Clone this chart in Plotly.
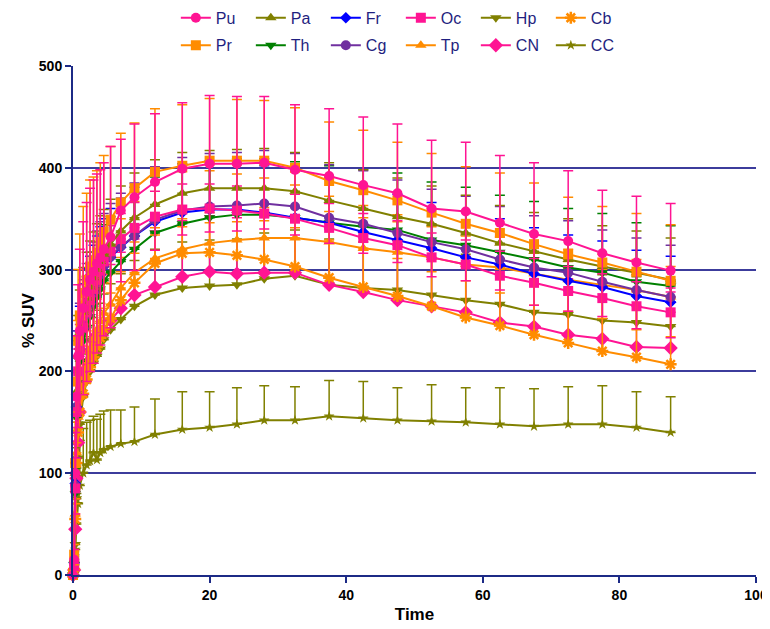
import plotly.graph_objects as go

time = [0, 0.17, 0.33, 0.5, 0.75, 1, 1.5, 2, 2.5, 3, 3.5, 4, 4.5, 5.5, 7, 9, 12, 16, 20, 24, 28,
        32.5, 37.5, 42.5, 47.5, 52.5, 57.5, 62.5, 67.5, 72.5, 77.5, 82.5, 87.5]

Pu = [0, 15, 100, 175, 215, 240, 262, 278, 290, 298, 306, 312, 320, 332, 358, 371, 386, 399, 404, 404, 405,
      398, 392, 383, 375, 360, 357, 346, 335, 328, 316, 307, 299]
Pr = [0, 20, 110, 190, 230, 255, 277, 290, 303, 309, 317, 327, 337, 349, 366, 380, 396, 402, 407, 407, 407,
      400, 387, 378, 368, 356, 345, 336, 325, 315, 307, 298, 289]
Pa = [0, 15, 100, 180, 215, 238, 258, 272, 283, 292, 300, 308, 315, 325, 338, 351, 364, 375, 380, 380, 380,
      377, 368, 360, 352, 345, 336, 326, 318, 310, 303, 297, 290]
Th = [0, 10, 80, 155, 190, 210, 230, 243, 254, 264, 273, 281, 289, 297, 308, 320, 336, 345, 351, 354, 354,
      351, 346, 342, 339, 329, 324, 317, 310, 302, 297, 288, 284]
Fr = [0, 12, 90, 165, 200, 222, 242, 256, 268, 278, 287, 295, 303, 312, 322, 333, 347, 356, 359, 359, 356,
      351, 346, 337, 329, 321, 312, 305, 296, 289, 283, 274, 268]
Cg = [0, 12, 88, 165, 200, 222, 242, 256, 267, 277, 287, 296, 304, 313, 323, 333, 349, 358, 362, 363, 365,
      362, 351, 345, 336, 327, 320, 310, 302, 297, 288, 280, 273]
Oc = [0, 10, 85, 160, 200, 222, 243, 258, 270, 281, 290, 299, 308, 318, 330, 341, 352, 359, 360, 358, 355,
      350, 341, 331, 324, 312, 305, 294, 287, 279, 272, 264, 258]
Tp = [0, 8, 60, 120, 155, 175, 195, 210, 222, 232, 241, 249, 257, 266, 282, 297, 311, 320, 326, 329, 331,
      331, 327, 321, 317, 312, 305, 302, 296, 290, 285, 280, 273]
Hp = [0, 4, 30, 75, 115, 148, 175, 190, 200, 208, 215, 222, 231, 241, 251, 264, 275, 282, 284, 285, 291,
      294, 285, 282, 280, 275, 270, 266, 258, 256, 250, 248, 244]
Cb = [0, 6, 55, 110, 140, 160, 178, 192, 204, 214, 224, 233, 242, 252, 270, 287, 306, 316, 317, 314, 310,
      303, 292, 283, 274, 264, 253, 245, 236, 228, 220, 214, 207]
CN = [0, 5, 45, 95, 130, 160, 190, 208, 220, 230, 236, 238, 240, 250, 262, 275, 283, 293, 298, 296, 297,
      297, 285, 278, 270, 264, 258, 248, 244, 236, 232, 224, 223]
CC = [0, 3, 25, 50, 70, 88, 100, 108, 112, 120, 113, 120, 123, 126, 129, 131, 138, 143, 145, 148, 152,
      152, 156, 154, 152, 151, 150, 148, 146, 148, 148, 145, 140]

Pu_err = [5, 10, 40, 60, 70, 80, 85, 88, 90, 90, 88, 86, 85, 89, 70, 72, 67, 65, 67, 66, 65,
          64, 66, 67, 68, 67, 68, 66, 70, 69, 62, 65, 66]
Pr_err = [5, 10, 40, 60, 70, 80, 85, 85, 85, 82, 80, 78, 75, 72, 68, 64, 62, 60, 61, 60, 59,
          59, 58, 59, 57, 58, 56, 59, 60, 56, 55, 57, 55]
Pa_err = [3, 8, 25, 35, 40, 42, 44, 45, 45, 45, 45, 45, 44, 44, 44, 44, 44, 40, 37, 38, 39,
          38, 37, 38, 38, 37, 37, 37, 38, 40, 40, 41, 41]
Th_err = [3, 8, 25, 35, 40, 45, 48, 50, 52, 53, 54, 54, 55, 55, 55, 56, 55, 55, 55, 55, 55,
          55, 56, 56, 56, 57, 57, 56, 57, 58, 58, 58, 59]
Fr_err = [3, 8, 25, 35, 40, 42, 44, 45, 45, 46, 46, 47, 47, 48, 48, 48, 48, 48, 48, 47, 46,
          46, 45, 45, 45, 45, 45, 45, 45, 45, 45, 45, 45]
Cg_err = [3, 8, 25, 35, 40, 45, 48, 50, 50, 50, 51, 51, 51, 52, 52, 52, 52, 52, 52, 52, 52,
          52, 52, 52, 52, 52, 52, 52, 51, 51, 51, 51, 51]
Oc_err = [3, 6, 15, 20, 22, 24, 25, 25, 25, 25, 25, 25, 25, 25, 25, 25, 25, 25, 24, 24, 24,
          24, 24, 24, 24, 24, 24, 24, 24, 24, 24, 24, 24]
Tp_err = [3, 6, 15, 22, 25, 28, 30, 30, 30, 30, 30, 30, 30, 30, 30, 30, 30, 30, 30, 30, 30,
          30, 30, 30, 30, 30, 30, 30, 30, 30, 30, 30, 30]
Hp_err = [3, 6, 20, 30, 35, 40, 42, 44, 45, 45, 45, 45, 45, 45, 45, 45, 45, 45, 45, 45, 45,
          45, 45, 45, 45, 45, 45, 45, 45, 45, 45, 45, 45]
Cb_err = [3, 10, 30, 50, 60, 70, 75, 80, 80, 80, 80, 80, 80, 80, 80, 80, 80, 80, 80, 80, 80,
          80, 80, 80, 80, 80, 80, 80, 80, 80, 80, 80, 80]
CN_err = [3, 10, 30, 45, 50, 55, 55, 55, 55, 55, 55, 55, 55, 55, 55, 55, 55, 55, 55, 55, 55,
          55, 55, 55, 55, 55, 55, 55, 55, 55, 55, 55, 55]
CC_err = [3, 8, 20, 30, 40, 44, 44, 42, 40, 36, 40, 38, 38, 36, 33, 34, 35, 37, 35, 36, 34,
          33, 35, 36, 32, 36, 34, 36, 37, 37, 38, 35, 35]

PINK = "#FF1493"
ORANGE = "#FF8C00"
OLIVE = "#808000"
BLUE = "#0000FF"
GREEN = "#008000"
PURPLE = "#7030A0"

# name, values, errors, color, symbol, size, symmetric, legend
series = [
    ("CC", CC, CC_err, OLIVE, "star", 8, False, "legend2"),
    ("Hp", Hp, Hp_err, OLIVE, "triangle-down", 10, False, "legend"),
    ("CN", CN, CN_err, PINK, "diamond", 11, False, "legend2"),
    ("Cb", Cb, Cb_err, ORANGE, "asterisk-open", 10, False, "legend"),
    ("Tp", Tp, Tp_err, ORANGE, "triangle-up", 10, False, "legend2"),
    ("Th", Th, Th_err, GREEN, "triangle-down", 10, False, "legend2"),
    ("Fr", Fr, Fr_err, BLUE, "diamond", 9, False, "legend"),
    ("Cg", Cg, Cg_err, PURPLE, "circle", 10, False, "legend2"),
    ("Oc", Oc, Oc_err, PINK, "square", 10, False, "legend"),
    ("Pa", Pa, Pa_err, OLIVE, "triangle-up", 10, False, "legend"),
    ("Pr", Pr, Pr_err, ORANGE, "square", 10, True, "legend2"),
    ("Pu", Pu, Pu_err, PINK, "circle", 10, True, "legend"),
]
order1 = ["Pu", "Pa", "Fr", "Oc", "Hp", "Cb"]
order2 = ["Pr", "Th", "Cg", "Tp", "CN", "CC"]

fig = go.Figure()
for name, vals, errs, col, sym, size, symm, leg in series:
    rank = (order1.index(name) if name in order1 else order2.index(name))
    err = dict(type="data", array=errs, color=col, thickness=1.5, width=5, visible=True)
    if symm:
        err["symmetric"] = True
    else:
        err["symmetric"] = False
        err["arrayminus"] = [0] * len(errs)
    mk = dict(symbol=sym, size=size, color=col, line=dict(width=0, color=col))
    if sym == "asterisk-open":
        mk["line"] = dict(width=2.5, color=col)
    fig.add_trace(go.Scatter(
        x=time, y=vals, name=name, mode="lines+markers",
        line=dict(color=col, width=2), marker=mk, error_y=err,
        cliponaxis=False, legend=leg, legendrank=rank,
    ))

NAVY = "#1C2A86"
GRID = "#3C3C9C"
tickfont = dict(family="Liberation Sans, Arial", size=14, color="black", weight="bold")
legfont = dict(family="Liberation Sans, Arial", size=16, color="#1F1F80")

fig.update_layout(
    width=762, height=621,
    margin=dict(l=65, r=14, t=58, b=54, autoexpand=False),
    plot_bgcolor="white", paper_bgcolor="white",
    legend=dict(orientation="h", x=0.48, xanchor="center", y=1.128, yanchor="top",
                font=legfont, entrywidth=30, traceorder="normal", bgcolor="rgba(0,0,0,0)"),
    legend2=dict(orientation="h", x=0.48, xanchor="center", y=1.074, yanchor="top",
                 font=legfont, entrywidth=30, traceorder="normal", bgcolor="rgba(0,0,0,0)"),
    xaxis=dict(range=[0, 100], tickvals=[0, 20, 40, 60, 80, 100], showgrid=False, zeroline=False,
               showline=True, linecolor=NAVY, linewidth=2, ticks="outside", ticklen=6, tickwidth=2,
               tickcolor=NAVY, tickfont=tickfont, automargin=False,
               title=dict(text="Time", font=dict(family="Liberation Sans, Arial", size=17,
                                                 color="black", weight="bold"), standoff=6)),
    yaxis=dict(range=[0, 500], tickvals=[0, 100, 200, 300, 400, 500], showgrid=True, gridcolor=GRID,
               gridwidth=1.5, zeroline=False, showline=True, linecolor=NAVY, linewidth=2,
               ticks="outside", ticklen=6, tickwidth=2, tickcolor=NAVY, tickfont=tickfont,
               automargin=False,
               title=dict(text="% SUV", font=dict(family="Liberation Sans, Arial", size=17,
                                                  color="black", weight="bold"), standoff=0)),
)

fig.write_html("out.html")
